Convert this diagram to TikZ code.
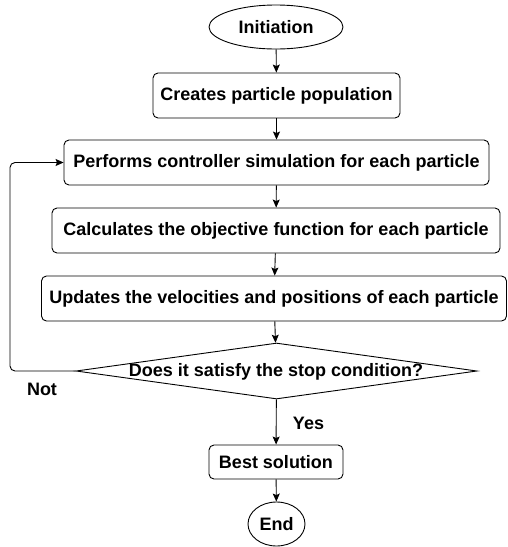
\documentclass[tikz,border=0pt]{standalone}
\usepackage{fontspec}
\setmainfont{Liberation Sans}
\usetikzlibrary{shapes.geometric,arrows.meta}
\begin{document}
\begin{tikzpicture}[x=1pt,y=-1pt,
  every node/.style={font=\bfseries\fontsize{18}{21}\selectfont, inner sep=0pt},
  procbox/.style={draw, line width=0.9pt, rounded corners=5pt, minimum height=45pt},
  termin/.style={draw, ellipse, line width=0.9pt, minimum height=44pt},
  decis/.style={draw, diamond, line width=0.9pt, minimum width=401pt, minimum height=56pt},
  arr/.style={-{Stealth[length=8pt,width=7pt,inset=1.5pt]}, line width=0.9pt},
  lbl/.style={font=\bfseries\fontsize{18}{21}\selectfont}]
\useasboundingbox (0,0) rectangle (508,547);
\node[termin, minimum width=134pt] (init) at (276,27) {Initiation};
\node[procbox, minimum width=247pt] (create) at (276.5,95.5) {Creates particle population};
\node[procbox, minimum width=425pt] (perf) at (276.5,162.5) {Performs controller simulation for each particle};
\node[procbox, minimum width=448pt] (calc) at (276,230.5) {Calculates the objective function for each particle};
\node[procbox, minimum width=465pt] (upd) at (274,298.5) {Updates the velocities and positions of each particle};
\node[decis] (dec) at (276.5,371) {};
\node (dectext) at (276,372) {Does it satisfy the stop condition?};
\node[procbox, minimum width=134pt, minimum height=34pt] (best) at (276,462) {Best solution};
\node[termin, minimum width=57pt] (end) at (276.5,524) {End};
\node[lbl] (not) at (42,389) {Not};
\node[lbl] (yes) at (308.5,423) {Yes};
\coordinate (loopc) at (10,0);
\draw[arr] (init) -- (create);
\draw[arr] (create) -- (perf);
\draw[arr] (perf) -- (calc);
\draw[arr] (calc) -- (upd);
\draw[arr] (upd) -- (dec);
\draw[arr] (dec) -- (best);
\draw[arr] (best) -- (end);
\draw[arr, rounded corners=5pt] (dec.west) -| (loopc |- perf.west) -- (perf.west);
\end{tikzpicture}
\end{document}
